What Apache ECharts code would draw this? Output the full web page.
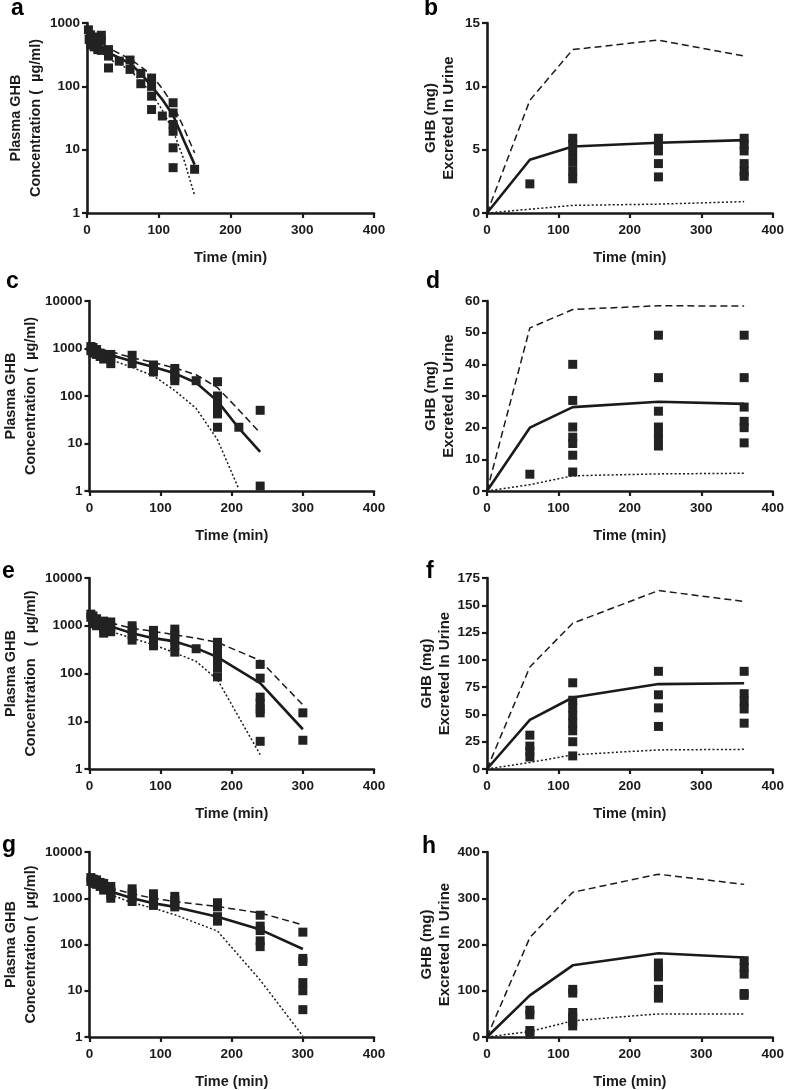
<!DOCTYPE html>
<html>
<head>
<meta charset="utf-8">
<script src="https://cdn.jsdelivr.net/npm/echarts@6/dist/echarts.min.js"></script>
<style>
html,body{margin:0;padding:0;background:#fff;}
#c{width:787px;height:1090px;}
</style>
</head>
<body>
<div id="c"></div>
<script>
// ---------- DATA ----------
const xTicks = [0, 100, 200, 300, 400];
const panelLetters = ['a','b','c','d','e','f','g','h'];

// Panel a (plasma, log)
const obsA = [[2,780],[3,550],[5,650],[5,450],[10,600],[10,420],[15,480],[15,380],[20,640],[20,520],[20,370],
  [30,380],[30,300],[30,195],[45,250],[60,260],[60,185],[75,160],[75,110],
  [90,135],[90,100],[90,70],[90,43],[105,34],[120,55],[120,38],[120,25],[120,19.5],[120,10.7],[120,5.2],[150,4.9]];
const predTimeA = [0,15,30,45,60,75,90,105,120,135,150];
const medA = [650,450,340,280,230,160,100,62,35,14,5.8];
const upA  = [760,520,400,330,270,205,150,92,51,22,8.9];
const loA  = [560,380,270,225,180,120,78,42,20,7,1.9];

// Panel b (urine, linear)
const obsB = [[60,2.3],[120,5.9],[120,5.4],[120,4.7],[120,4.0],[120,3.3],[120,2.7],
  [240,5.9],[240,5.4],[240,4.9],[240,3.9],[240,2.85],
  [360,5.9],[360,5.4],[360,4.9],[360,3.9],[360,3.3],[360,2.9]];
const predTimeB = [0,60,120,240,360];
const medB = [0,4.2,5.25,5.55,5.75];
const upB  = [0,8.9,12.9,13.65,12.4];
const loB  = [0,0.3,0.6,0.7,0.9];

// Panel c (plasma, log)
const obsC = [[2,1100],[2,900],[5,1050],[5,800],[10,950],[10,750],[15,800],[15,680],[20,720],[20,600],
  [30,750],[30,620],[30,480],[60,720],[60,480],[90,450],[90,400],[90,320],
  [120,380],[120,300],[120,250],[120,210],[150,210],
  [180,200],[180,100],[180,70],[180,55],[180,42],[180,22],[210,22],[240,50],[240,1.27]];
const predTimeC = [0,30,60,90,120,150,180,210,240];
const medC = [1000,730,540,410,300,190,78,21,6.7];
const upC  = [1090,860,640,510,390,280,150,51,16.6];
const loC  = [880,580,400,265,130,55,12,1.1,null];

// Panel d (urine, linear)
const obsD = [[60,5.3],[120,40],[120,28.6],[120,20.2],[120,17],[120,15],[120,11.3],[120,6],
  [240,49.2],[240,35.8],[240,25.2],[240,20.2],[240,18],[240,16.5],[240,14.2],
  [360,49.2],[360,35.8],[360,26.5],[360,22],[360,20],[360,15.2]];
const predTimeD = [0,60,120,240,360];
const medD = [0,20,26.5,28.2,27.5];
const upD  = [0,51.5,57.3,58.5,58.4];
const loD  = [0,2,4.8,5.4,5.6];

// Panel e (plasma, log)
const obsE = [[2,1750],[2,1500],[5,1600],[5,1300],[5,1100],[10,1400],[10,1200],[10,1000],
  [20,1250],[20,1050],[20,850],[20,700],[30,1200],[30,950],[30,750],
  [60,1000],[60,800],[60,650],[60,500],[90,800],[90,650],[90,500],[90,380],
  [120,850],[120,650],[120,500],[120,380],[120,280],[150,330],
  [180,450],[180,350],[180,250],[180,180],[180,130],[180,85],
  [240,155],[240,80],[240,32],[240,24],[240,18],[240,15],[240,3.8],[300,15],[300,4]];
const predTimeE = [0,30,60,90,120,150,180,240,300];
const medE = [1380,970,700,550,470,340,220,63,6.8];
const upE  = [1570,1140,890,760,650,550,450,187,22];
const loE  = [1250,760,550,400,270,180,74,2.0,null];

// Panel f (urine, linear)
const obsF = [[60,31],[60,21],[60,16],[60,11],
  [120,79],[120,63],[120,56],[120,49],[120,42],[120,35],[120,25],[120,12],
  [240,89.5],[240,68],[240,56],[240,39],
  [360,89.5],[360,69],[360,62],[360,55],[360,42]];
const predTimeF = [0,60,120,240,360];
const medF = [0,45,65.5,77.8,78.5];
const upF  = [0,93.5,133.5,163.5,153.5];
const loF  = [0,6,13,17.5,18];

// Panel g (plasma, log)
const obsG = [[2,2800],[2,2300],[5,2600],[5,2100],[10,2500],[10,2000],[15,2200],[15,1800],
  [20,2100],[20,1700],[20,1500],[30,1800],[30,1500],[30,1200],[30,1000],
  [60,1600],[60,1300],[60,1050],[60,850],[90,1250],[90,1000],[90,800],[90,700],
  [120,1100],[120,900],[120,750],[120,650],[180,800],[180,650],[180,400],[180,320],
  [240,430],[240,250],[240,200],[240,120],[240,90],
  [300,185],[300,50],[300,43],[300,15],[300,10],[300,3.9]];
const predTimeG = [0,30,60,90,120,180,240,300];
const medG = [2600,1400,1000,780,650,400,210,80];
const upG  = [2750,1650,1250,1000,850,660,480,265];
const loG  = [2400,1200,800,610,440,195,17,1.05];

// Panel h (urine, linear)
const obsH = [[60,58],[60,48],[60,14],[60,6],
  [120,103],[120,95],[120,53],[120,43],[120,33],[120,24],
  [240,160],[240,150],[240,140],[240,130],[240,103],[240,93],[240,84],
  [360,165],[360,150],[360,136],[360,94],[360,90]];
const predTimeH = [0,60,120,240,360];
const medH = [0,90,155,181,172];
const upH  = [0,215,313,352,330];
const loH  = [0,12,35,50,50];

// ---------- LAYOUT / STYLE ----------
const FONT = '"Liberation Sans", Arial, Helvetica, sans-serif';
const INK = '#1a1a1a';
const rowTop = [23, 301, 578, 852];
const rowH = [190, 190, 191, 191];
const colLeft = [87, 487];
const colW = [287, 286];

const plasmaName = 'Plasma GHB\nConcentration (  µg/ml)';
const plasmaNameE = 'Plasma GHB\nConcentration   (  µg/ml)';
const urineName = 'GHB (mg)\nExcreted In Urine';

const panels = [
  {obs:obsA,t:predTimeA,med:medA,up:upA,lo:loA,log:true,min:1,max:1000,name:plasmaName},
  {obs:obsB,t:predTimeB,med:medB,up:upB,lo:loB,log:false,min:0,max:15,interval:5,name:urineName},
  {obs:obsC,t:predTimeC,med:medC,up:upC,lo:loC,log:true,min:1,max:10000,name:plasmaName},
  {obs:obsD,t:predTimeD,med:medD,up:upD,lo:loD,log:false,min:0,max:60,interval:10,name:urineName},
  {obs:obsE,t:predTimeE,med:medE,up:upE,lo:loE,log:true,min:1,max:10000,name:plasmaNameE},
  {obs:obsF,t:predTimeF,med:medF,up:upF,lo:loF,log:false,min:0,max:175,interval:25,name:urineName},
  {obs:obsG,t:predTimeG,med:medG,up:upG,lo:loG,log:true,min:1,max:10000,name:plasmaName},
  {obs:obsH,t:predTimeH,med:medH,up:upH,lo:loH,log:false,min:0,max:400,interval:100,name:urineName}
];

const letterPos = [[11,-3],[424,-3],[6,270],[426,270],[2,560],[426,560],[2,834],[422,835]];

const grids = [], xAxes = [], yAxes = [], series = [], graphics = [];
const axisLine = {show:true, onZero:false, lineStyle:{color:INK, width:2.6}};
const axisTick = {show:true, inside:false, length:5, lineStyle:{color:INK, width:2.2}};
const labelStyle = {color:INK, fontFamily:FONT, fontWeight:'bold', fontSize:13.5};

panels.forEach((p, i) => {
  const row = Math.floor(i/2), col = i%2;
  grids.push({left:colLeft[col], top:rowTop[row], width:colW[col], height:rowH[row], containLabel:false});
  xAxes.push({
    gridIndex:i, type:'value', min:xTicks[0], max:xTicks[xTicks.length-1], interval:100,
    axisLine, axisTick, splitLine:{show:false},
    axisLabel:Object.assign({margin:10}, labelStyle),
    name:'Time (min)', nameLocation:'middle', nameGap:37,
    nameTextStyle:{color:INK, fontFamily:FONT, fontWeight:'bold', fontSize:14.5}
  });
  const y = {
    gridIndex:i, min:p.min, max:p.max,
    axisLine, axisTick, splitLine:{show:false}, minorTick:{show:false},
    axisLabel:Object.assign({margin:7, formatter:v => String(Math.round(v))}, labelStyle),
    name:p.name, nameLocation:'middle', nameRotate:90,
    nameGap: col === 0 ? 41 : 29,
    nameTextStyle:{color:INK, fontFamily:FONT, fontWeight:'bold',
      fontSize: col === 0 ? 14.5 : 15, lineHeight: col === 0 ? 20 : 18}
  };
  if (p.log) { y.type = 'log'; y.logBase = 10; }
  else { y.type = 'value'; y.interval = p.interval; }
  yAxes.push(y);

  const lineData = arr => p.t.map((t, k) => [t, arr[k]]);
  series.push({type:'line', xAxisIndex:i, yAxisIndex:i, data:lineData(p.up), showSymbol:false,
    lineStyle:{color:INK, width:1.5, type:[7,4]}, z:2, silent:true});
  series.push({type:'line', xAxisIndex:i, yAxisIndex:i, data:lineData(p.lo), showSymbol:false,
    lineStyle:{color:INK, width:1.5, type:[2,2.2]}, z:2, silent:true, connectNulls:false});
  series.push({type:'line', xAxisIndex:i, yAxisIndex:i, data:lineData(p.med), showSymbol:false,
    lineStyle:{color:INK, width:2.6}, z:3, silent:true});
  series.push({type:'scatter', xAxisIndex:i, yAxisIndex:i, data:p.obs, symbol:'rect', symbolSize:9,
    itemStyle:{color:'#222', opacity:1}, z:4, silent:true});

  graphics.push({type:'text', left:letterPos[i][0], top:letterPos[i][1],
    style:{text:panelLetters[i], fill:'#000', font:'bold 23px ' + FONT}});
});

const chart = echarts.init(document.getElementById('c'), null, {renderer:'canvas'});
chart.setOption({
  animation:false,
  backgroundColor:'#fff',
  grid:grids, xAxis:xAxes, yAxis:yAxes, series:series, graphic:graphics
});
</script>
</body>
</html>
